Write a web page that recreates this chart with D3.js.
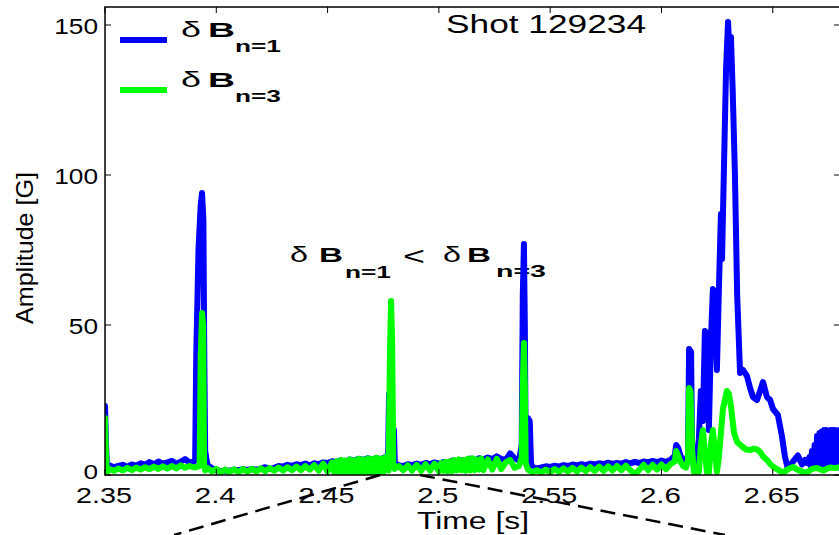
<!DOCTYPE html>
<html><head><meta charset="utf-8">
<script src="https://cdn.jsdelivr.net/npm/d3@7"></script>
<style>body{margin:0;background:#fff}svg{display:block}text{font-family:"Liberation Sans",Arial,Helvetica,sans-serif;fill:#000}</style>
</head><body><svg id="c" width="839" height="535"></svg>
<script>
const xTicks=[2.35,2.4,2.45,2.5,2.55,2.6,2.65];
const xTickLabels=["2.35","2.4","2.45","2.5","2.55","2.6","2.65"];
const yTicks=[0,50,100,150];
const yTickLabels=["0","50","100","150"];
const seriesNames=["n=1","n=3"];
const seriesColors=["#0000ff","#00ff00"];
const zoomTimes=[2.4736,2.4915];
// delta B n=1 : [time s, amplitude G]
const blueData=[[2.3500,23],[2.3504,12],[2.3508,4],[2.3512,2.5],[2.352,3.2],[2.354,2.6],[2.356,3.0],[2.358,3.4],[2.360,2.7],[2.362,3.5],[2.364,3.1],[2.366,3.9],[2.368,3.4],[2.370,4.3],[2.372,3.6],[2.374,4.5],[2.376,3.8],[2.378,4.2],[2.380,4.7],[2.382,3.8],[2.384,4.4],[2.386,5.3],[2.388,4.1],[2.3900,4.5],[2.3905,5],[2.391,40],[2.392,75],[2.393,90],[2.3936,94],[2.3942,85],[2.3946,40],[2.395,8],[2.396,3.4],[2.398,2.3],[2.400,1.6],[2.402,1.3],[2.404,1.5],[2.406,1.4],[2.408,1.8],[2.410,1.6],[2.412,1.9],[2.414,1.7],[2.416,2.0],[2.418,1.8],[2.420,2.1],[2.422,2.6],[2.424,2.0],[2.426,2.4],[2.428,3.0],[2.430,2.8],[2.432,3.4],[2.434,3.0],[2.436,3.6],[2.438,3.3],[2.440,3.8],[2.442,3.2],[2.444,3.9],[2.446,3.6],[2.448,4.2],[2.450,4.0],[2.452,4.6],[2.454,4.3],[2.456,4.9],[2.458,4.5],[2.460,5.2],[2.462,4.8],[2.464,5.4],[2.466,5.0],[2.468,5.6],[2.470,5.1],[2.472,5.6],[2.474,5.3],[2.476,6.0],[2.4772,5.5],[2.4776,27],[2.4782,10],[2.4790,6],[2.4798,15],[2.4802,4],[2.482,3.2],[2.484,3.0],[2.486,3.6],[2.488,3.3],[2.490,3.8],[2.492,3.4],[2.494,4.0],[2.496,3.6],[2.498,4.2],[2.500,3.8],[2.502,4.3],[2.504,4.0],[2.506,4.8],[2.508,4.3],[2.510,5.0],[2.512,4.6],[2.514,5.5],[2.516,5.0],[2.518,5.6],[2.520,5.2],[2.522,5.8],[2.524,5.3],[2.526,6.2],[2.528,5.4],[2.530,5.0],[2.532,7.2],[2.534,5.6],[2.536,4.8],[2.5372,10],[2.5377,60],[2.5382,77],[2.5386,50],[2.5390,8],[2.5395,6],[2.5400,19],[2.5408,18],[2.5414,4],[2.542,2.6],[2.544,2.2],[2.546,2.5],[2.548,2.9],[2.550,2.7],[2.552,3.1],[2.554,2.8],[2.556,3.3],[2.558,3.0],[2.560,3.5],[2.562,3.2],[2.564,3.6],[2.566,3.3],[2.568,3.8],[2.570,3.5],[2.572,3.9],[2.574,3.6],[2.576,4.1],[2.578,3.7],[2.580,4.0],[2.582,3.8],[2.584,4.3],[2.586,3.9],[2.588,4.4],[2.590,4.0],[2.592,4.5],[2.594,4.2],[2.596,4.7],[2.598,4.3],[2.600,4.8],[2.602,4.4],[2.604,5.0],[2.6060,6.5],[2.6066,10],[2.6075,9],[2.6085,6.5],[2.6097,4.5],[2.6110,4.3],[2.6119,6.7],[2.6124,42],[2.6133,41],[2.6137,12],[2.6146,1.7],[2.6159,1.7],[2.6168,12],[2.6177,28],[2.6186,18],[2.6195,48],[2.6204,47],[2.6213,15],[2.6222,45],[2.6231,62],[2.6240,58],[2.6249,35],[2.6258,62],[2.6267,87],[2.6272,72],[2.6280,100],[2.6290,135],[2.6299,151],[2.6306,140],[2.6312,146],[2.6320,128],[2.6330,100],[2.6340,60],[2.6353,34],[2.6366,35],[2.6384,33],[2.6398,29],[2.6411,26],[2.6429,25],[2.6443,28],[2.6456,31],[2.6474,26],[2.6488,25],[2.6501,22],[2.6523,20],[2.6541,13],[2.6555,6],[2.6568,2],[2.6591,4.5],[2.6613,6.5],[2.6631,3.5],[2.6645,5],[2.6654,4],[2.6665,6],[2.6670,3],[2.6676,8],[2.6682,3],[2.6688,10],[2.6693,3],[2.6699,13],[2.6704,3],[2.6710,14],[2.6715,2.5],[2.6720,14.5],[2.6725,3],[2.6730,15],[2.6735,2.5],[2.6740,15],[2.6745,3],[2.6750,14.5],[2.6755,2.5],[2.6760,15],[2.6765,3],[2.6770,15],[2.6775,2.5],[2.6780,15],[2.6785,3],[2.6790,14.5],[2.6795,2.5],[2.6800,15],[2.6805,3]];
// delta B n=3 : [time s, amplitude G]
const greenData=[[2.3500,19],[2.3504,8],[2.3508,2],[2.3512,1.2],[2.352,2.0],[2.354,1.4],[2.356,2.2],[2.358,1.5],[2.360,2.4],[2.362,1.6],[2.364,2.5],[2.366,1.8],[2.368,2.6],[2.370,1.9],[2.372,2.8],[2.374,2.0],[2.376,2.9],[2.378,2.1],[2.380,3.0],[2.382,2.2],[2.384,3.2],[2.386,2.4],[2.388,3.0],[2.390,2.5],[2.3925,3],[2.3930,40],[2.3936,54],[2.3941,50],[2.3945,4],[2.395,1.5],[2.396,2.4],[2.398,1.2],[2.400,2.0],[2.402,0.9],[2.404,1.8],[2.406,1.0],[2.408,1.9],[2.410,1.0],[2.412,2.0],[2.414,1.1],[2.416,2.1],[2.418,1.2],[2.420,2.2],[2.422,1.3],[2.424,2.3],[2.426,1.4],[2.428,2.5],[2.430,1.5],[2.432,2.6],[2.434,1.6],[2.436,2.8],[2.438,1.6],[2.440,3.0],[2.442,1.8],[2.444,3.3],[2.446,1.5],[2.448,3.8],[2.450,1.2],[2.452,4.2],[2.453,1.0],[2.454,4.6],[2.455,0.8],[2.456,5.0],[2.457,1.0],[2.458,4.8],[2.459,0.6],[2.460,5.2],[2.461,0.8],[2.462,5.0],[2.463,0.6],[2.464,5.4],[2.465,0.9],[2.466,5.2],[2.467,0.7],[2.468,5.6],[2.469,0.8],[2.470,5.4],[2.471,0.6],[2.472,5.8],[2.473,0.8],[2.474,5.5],[2.475,0.7],[2.476,6.0],[2.4774,1.5],[2.4780,40],[2.4785,58],[2.4790,45],[2.4795,4],[2.480,2.0],[2.482,3.0],[2.484,1.6],[2.486,3.2],[2.488,1.5],[2.490,3.4],[2.492,1.4],[2.494,3.6],[2.496,1.5],[2.498,3.8],[2.500,1.3],[2.501,4.0],[2.502,1.4],[2.503,4.4],[2.504,1.2],[2.505,4.6],[2.506,1.3],[2.507,5.0],[2.508,1.5],[2.509,5.2],[2.510,1.6],[2.511,5.0],[2.512,1.4],[2.513,5.4],[2.514,1.5],[2.515,5.6],[2.516,1.6],[2.517,5.2],[2.518,1.8],[2.519,5.5],[2.520,1.6],[2.522,5.2],[2.524,1.8],[2.526,5.4],[2.528,2.0],[2.530,4.2],[2.532,5.0],[2.534,2.4],[2.536,3.0],[2.5372,6],[2.5377,30],[2.5382,44],[2.5386,30],[2.5390,4],[2.540,1.8],[2.542,1.0],[2.544,1.6],[2.546,0.9],[2.548,1.8],[2.550,1.0],[2.552,2.0],[2.554,1.1],[2.556,2.2],[2.558,1.2],[2.560,2.4],[2.562,1.2],[2.564,2.5],[2.566,1.3],[2.568,2.6],[2.570,1.4],[2.572,2.8],[2.574,1.4],[2.576,2.9],[2.578,1.5],[2.580,3.0],[2.582,1.6],[2.584,3.1],[2.586,1.6],[2.588,0.3],[2.590,1.7],[2.592,3.4],[2.594,1.6],[2.596,3.4],[2.598,1.8],[2.600,3.5],[2.602,1.9],[2.604,3.6],[2.6060,4.5],[2.6066,8],[2.6075,6.5],[2.6085,4.5],[2.6097,3],[2.6110,2.5],[2.6119,5],[2.6124,29],[2.6130,28],[2.6134,19],[2.6138,8],[2.6146,1],[2.6159,0.5],[2.6168,1],[2.6177,10],[2.6186,15],[2.6195,8],[2.6204,1],[2.6213,0.7],[2.6222,10],[2.6231,15],[2.6240,8],[2.6249,1],[2.6258,6],[2.6267,14],[2.6276,22],[2.6285,25],[2.6294,28],[2.6303,27],[2.6312,23],[2.6326,14],[2.6340,11],[2.6362,9.5],[2.6380,8.5],[2.6398,8.3],[2.6415,8.8],[2.6429,8.5],[2.6443,7.7],[2.6456,6.2],[2.6474,5],[2.6490,3.5],[2.6510,2.3],[2.6530,1.5],[2.6546,0.7],[2.6560,1.5],[2.6575,2.2],[2.6591,2.7],[2.6610,1.8],[2.6630,1.2],[2.6654,0.7],[2.6670,1.8],[2.6685,2.2],[2.6699,2.3],[2.6715,1.8],[2.6730,1.5],[2.6745,2.2],[2.6760,2.5],[2.6780,2.3],[2.6805,2.7]];

const svg=d3.select("#c");
const L=105,R=840,T=7,B=475;
const x=d3.scaleLinear().domain([2.35,2.6802]).range([L,R]);
const y=d3.scaleLinear().domain([0,156]).range([B,T]);

function txt(s,px,py,size,len,opt={}){
  const t=svg.append("text").attr("x",px).attr("y",py).style("font-size",size+"px").text(s);
  if(len) t.attr("textLength",len).attr("lengthAdjust","spacingAndGlyphs");
  if(opt.bold) t.style("font-weight","bold");
  if(opt.transform) t.attr("transform",opt.transform);
  if(opt.anchor) t.attr("text-anchor",opt.anchor);
  return t;
}

// annotation text (beneath data lines)
const ab=262;
txt("δ",290,ab,22,18);
txt("B",319,ab,21,24,{bold:true});
txt(seriesNames[0],345,ab+16,17,46,{bold:true});
txt("<",403,ab+3,26,22);
txt("δ",443,ab,22,18);
txt("B",467,ab,21,24,{bold:true});
txt(seriesNames[1],496,ab+15,17,50,{bold:true});

// clip
svg.append("clipPath").attr("id","clp").append("rect").attr("x",L).attr("y",T).attr("width",R-L).attr("height",B-T);
const line=d3.line().x(d=>x(d[0])).y(d=>y(d[1]));
const g=svg.append("g").attr("clip-path","url(#clp)");
[blueData,greenData].forEach((dat,i)=>{
  g.append("path").datum(dat).attr("d",line).attr("fill","none")
   .attr("stroke",seriesColors[i]).attr("stroke-width",6)
   .attr("stroke-linejoin","round").attr("stroke-linecap","round");
});

// frame and ticks
svg.append("rect").attr("x",L).attr("y",T).attr("width",R-L).attr("height",B-T)
  .attr("fill","none").attr("stroke","#000").attr("stroke-width",1.5);
const tl=6;
xTicks.forEach(v=>{
  svg.append("line").attr("x1",x(v)).attr("x2",x(v)).attr("y1",B).attr("y2",B-tl).attr("stroke","#000").attr("stroke-width",1);
  svg.append("line").attr("x1",x(v)).attr("x2",x(v)).attr("y1",T).attr("y2",T+tl).attr("stroke","#000").attr("stroke-width",1);
});
yTicks.forEach(v=>{
  svg.append("line").attr("x1",L).attr("x2",L+tl).attr("y1",y(v)).attr("y2",y(v)).attr("stroke","#000").attr("stroke-width",1);
  svg.append("line").attr("x1",R).attr("x2",R-tl).attr("y1",y(v)).attr("y2",y(v)).attr("stroke","#000").attr("stroke-width",1);
});
// tick labels
xTickLabels.forEach((s,i)=>{
  const len=s.length===4?56:41;
  txt(s,x(xTicks[i])-len/2-1,503,21.5,len);
});
yTickLabels.forEach((s,i)=>{
  const len=s.length*14.6;
  const isZero=yTicks[i]===0;
  txt(s,98-len,y(yTicks[i])+(isZero?4:8.5),isZero?21:22,len);
});
// axis titles
txt("Time [s]",417,529,23,112);
txt("Amplitude [G]",0,0,24,152,{transform:"translate(33,248) rotate(-90)",anchor:"middle"});
txt("Shot 129234",446,33,26,200);

// legend
[0,1].forEach(i=>{
  const ly=40+i*50;
  svg.append("line").attr("x1",120).attr("x2",167).attr("y1",ly).attr("y2",ly)
    .attr("stroke",seriesColors[i]).attr("stroke-width",6);
  txt("δ",181,ly-3,22,20);
  txt("B",208,ly-3,21,27,{bold:true});
  txt(seriesNames[i],235,ly+12,17,46,{bold:true});
});

// zoom dashed lines
svg.append("line").attr("x1",x(zoomTimes[0])).attr("y1",B).attr("x2",x(zoomTimes[0])-206).attr("y2",B+60)
  .attr("stroke","#000").attr("stroke-width",2.5).attr("stroke-dasharray","15,8");
svg.append("line").attr("x1",x(zoomTimes[1])).attr("y1",B).attr("x2",x(zoomTimes[1])+305).attr("y2",B+60)
  .attr("stroke","#000").attr("stroke-width",2.5).attr("stroke-dasharray","15,8");
</script></body></html>
